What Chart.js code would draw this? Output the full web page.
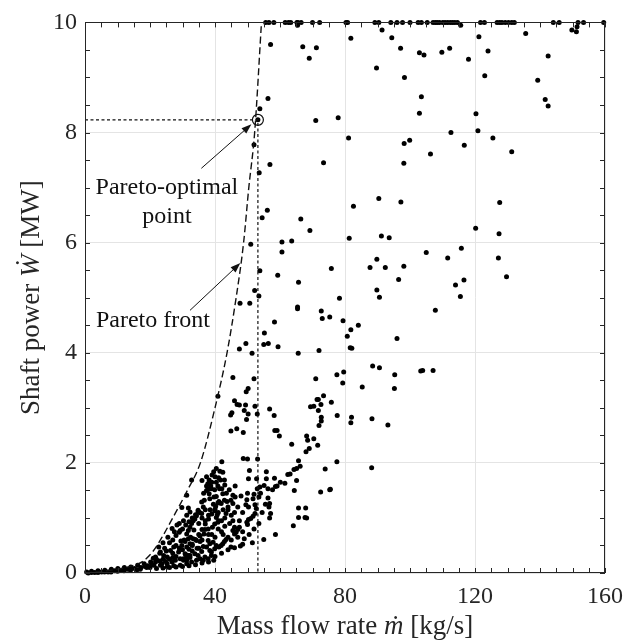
<!DOCTYPE html>
<html>
<head>
<meta charset="utf-8">
<script src="https://cdn.jsdelivr.net/npm/chart.js@4.4.0/dist/chart.umd.min.js"></script>
<style>
  html, body { margin: 0; padding: 0; background: #fff; }
  #wrap { width: 632px; height: 643px; }
</style>
</head>
<body>
<div id="wrap"><canvas id="paretoPlot" width="632" height="643"></canvas></div>
<script>
// ---- data ----
// designs that hit the 10 MW cap (mass flow only)
const capPower = 10;
const capFlow = [55.6, 56.6, 58.1, 61.6, 62.6, 63.3, 65.2, 65.5, 66.5, 70.0, 72.2, 80.3, 80.8,
  89.2, 90.4, 94.1, 96.0, 97.7, 100.0, 102.5, 103.5, 105.3, 107.1, 107.8, 108.4, 109.1, 110.1,
  110.8, 111.6, 112.4, 113.1, 113.8, 114.6, 121.7, 122.9, 126.8, 127.6, 128.3, 129.3, 130.3,
  131.3, 132.1, 144.1, 145.9, 151.7, 153.4, 159.6];

// [mass flow kg/s, shaft power MW]
const upperDesigns = [[65.4,9.95],[91.4,9.86],[115.6,9.95],[149.8,9.86],[151.2,9.83],[151.4,9.92],
  [57.1,9.60],[67.0,9.56],[71.2,9.54],[69.0,9.35],[81.8,9.71],[94.4,9.72],[97.1,9.53],[89.7,9.17],
  [98.3,9.00],[56.3,8.62],[53.8,8.43],[71.0,8.22],[77.9,8.27],[81.1,7.90],[99.9,7.86],[98.2,7.80],
  [52.0,7.78],[56.9,7.42],[73.4,7.45],[98.1,7.44],[53.6,7.27],[90.4,6.80],[97.2,6.74],
  [121.2,9.74],[135.6,9.80],[102.9,9.45],[104.3,9.41],[109.8,9.46],[112.2,9.53],[118.0,9.33],
  [124.0,9.48],[142.5,9.39],[123.0,9.03],[139.3,8.95],[103.5,8.65],[141.6,8.60],[142.5,8.48],
  [102.9,8.35],[120.3,8.34],[120.9,8.03],[112.6,8.00],[125.5,7.90],[116.7,7.77],[106.3,7.61],
  [131.3,7.65],[127.6,6.73],[53.2,8.23]];

const midDesigns = [[54.5,6.45],[56.1,6.59],[51.0,5.97],[53.8,5.49],[52.2,5.13],[53.5,5.03],
  [47.7,4.90],[50.7,4.90],[59.3,5.41],[60.6,5.83],[60.6,6.01],[63.6,6.03],[66.4,6.43],[69.2,6.22],
  [65.7,5.28],[65.4,4.83],[82.6,6.66],[81.3,6.08],[91.2,6.12],[93.6,6.09],[87.7,5.55],[89.8,5.70],
  [92.4,5.55],[98.1,5.57],[96.5,5.33],[75.8,5.53],[89.8,5.14],[90.6,5.01],[78.3,4.99],[65.4,4.80],
  [72.7,4.76],[73.0,4.62],[75.3,4.65],[79.4,4.58],[84.1,4.50],[81.8,4.42],[80.7,4.30],[81.6,4.09],
  [82.1,4.08],[96.0,4.26],[58.3,4.56],[55.2,4.36],[49.5,4.17],[55.0,4.15],[56.4,4.17],[59.4,4.11],
  [47.5,4.07],[51.4,3.99],[65.6,3.99],[72.0,4.04],[88.5,3.76],[90.6,3.73],[95.3,3.60],[77.5,3.60],
  [79.6,3.65],[71.0,3.53],[52.0,3.53],[103.3,3.67],[103.9,3.68],[107.1,3.68],[105.0,5.82],
  [120.2,6.26],[127.4,6.16],[111.6,5.72],[115.8,5.90],[127.2,5.72],[129.7,5.38],[114.0,5.23],
  [116.6,5.32],[115.5,5.02],[107.8,4.77],[45.5,3.55]];

const lowerDesigns = [[79.3,3.45],[85.3,3.38],[95.2,3.35],[69.4,3.02],[70.4,3.03],[71.4,3.15],
  [71.8,3.15],[73.4,3.22],[71.8,2.95],[72.6,3.06],[75.8,3.10],[77.6,2.86],[81.8,2.73],[82.0,2.83],
  [72.7,2.83],[72.7,2.76],[72.0,2.68],[88.3,2.80],[93.2,2.69],[68.2,2.49],[68.5,2.41],[68.0,2.20],
  [69.0,2.26],[70.4,2.44],[71.6,2.32],[77.5,2.02],[73.9,1.89],[88.2,1.91],[72.5,1.47],[75.3,1.51],
  [75.5,1.52],[59.1,2.59],[59.8,2.49],[63.6,2.34],[65.7,2.04],[66.2,1.94],[65.1,1.90],[64.3,1.88],
  [63.1,1.80],[62.4,1.79],[65.1,1.68],[60.1,1.65],[59.1,1.58],[61.5,1.63],[64.4,1.50],[65.7,1.18],
  [67.9,1.18],[68.2,1.00],[64.1,0.86],[65.7,1.01],[67.7,1.01],
  [50.2,3.35],[49.6,3.29],[40.9,3.21],[46.0,3.13],[46.8,3.06],[47.5,3.05],[49.4,3.05],[52.3,3.03],
  [49.0,2.95],[50.2,2.89],[49.7,2.79],[53.0,2.89],[45.2,2.91],[44.8,2.87],[56.8,2.98],[58.2,2.86],
  [58.4,2.59],[44.9,2.58],[46.7,2.62],[48.7,2.55],[48.7,2.08],[50.0,2.07],[53.1,2.07],[42.1,2.02],
  [40.4,1.90],[39.6,1.84],[50.6,1.86],[55.8,1.84],[32.8,1.69],[36.0,1.68],[37.4,1.75],[38.2,1.69],
  [39.1,1.78],[41.1,1.73],[42.4,1.83],[41.7,1.69],[42.9,1.69],[38.7,1.58],[37.4,1.58],[37.9,1.52],
  [37.4,1.50],[40.9,1.58],[41.4,1.53],[42.1,1.53],[44.4,1.51],[46.2,1.58],[50.3,1.71],[52.8,1.71],
  [55.8,1.71],[58.3,1.72],[53.0,1.53],[53.8,1.56],[55.1,1.59],[56.3,1.53],[57.7,1.51],[58.6,1.57],
  [36.5,1.45],[37.8,1.62],[39.0,1.65],[40.0,1.75],[41.5,1.85],[43.0,1.60],[43.5,1.45],[50.0,1.45],
  [54.0,1.45],[48.0,1.40]];

const bottomDesigns = [[31.3,1.41],[35.9,1.29],[36.7,1.32],[38.4,1.35],[39.7,1.38],[40.4,1.39],
  [41.2,1.30],[41.9,1.26],[43.7,1.30],[46.2,1.38],[49.8,1.33],[50.3,1.20],[53.5,1.38],[56.3,1.36],
  [29.8,1.19],[31.8,1.18],[52.0,1.43],[51.7,1.35],[56.8,1.26],[56.6,1.20],[57.1,1.08],[56.8,1.00],
  [52.3,1.24],[52.7,1.17],[52.3,1.08],[51.7,1.03],[49.5,1.24],[48.5,1.10],[51.0,0.99],[50.3,0.97],
  [49.8,0.92],[50.0,0.88],[47.5,0.83],[47.0,0.79],[46.5,0.74],[46.0,0.71],[45.5,0.77],[46.0,0.83],
  [58.6,0.70],[55.0,0.61],[51.5,0.55],[47.8,0.49],[43.4,0.61],[42.9,0.57],[42.4,0.53],[41.9,0.50],
  [41.2,0.47],[40.4,0.50],[39.6,0.23],[38.9,0.38],[43.4,1.08],[45.5,1.26],[44.9,1.32],[40.9,1.27],
  [40.2,1.21],[39.9,1.13],[40.7,1.06],[40.4,1.01],[41.2,0.95],[40.9,0.92],[39.9,0.89],[39.2,0.83],
  [37.9,0.80],[36.9,0.79],[36.6,0.71],[35.4,0.67],[36.4,1.20],[35.9,1.08],[34.8,1.11],[34.3,1.04],
  [33.8,0.98],[33.3,0.95],[32.8,0.90],[32.3,0.83],[31.8,0.77],[31.3,0.71],[38.2,1.44],[38.9,1.53],
  [39.9,1.51],[40.4,1.65],[42.9,1.32],[45.5,1.41],[42.4,1.44],[33.3,0.62],[32.3,0.53],[31.3,0.47],
  [30.8,0.35],[31.8,0.32],[33.8,0.35],[34.8,0.32],[35.9,0.39],[36.4,0.48],[35.4,0.57],[34.3,0.59],
  [37.9,0.59],[38.4,0.53],[39.4,0.56],[37.4,0.47],[38.4,0.41],[36.9,0.29],[37.9,0.26],[38.9,0.32],
  [39.9,0.44],[30.3,0.26],[31.3,0.23],[32.3,0.28],[32.8,0.20],[34.3,0.23],[35.4,0.26],[36.4,0.23],
  [28.3,0.87],[29.3,0.77],[30.3,0.95],[31.3,1.05],[32.3,1.11],[26.8,0.81],[22.7,0.47],[23.2,0.38],
  [24.2,0.32],[25.3,0.29],[26.3,0.41],[27.3,0.47],[28.8,0.38],[29.8,0.50],[30.8,0.57],[31.8,0.62],
  [20.2,0.20],[21.7,0.20],[23.7,0.17],[25.3,0.17],[26.8,0.20],[27.8,0.23],[29.3,0.26],[30.3,0.23],
  [31.3,0.26],[32.3,0.32],[18.2,0.17],[16.2,0.14],[14.1,0.11],[12.1,0.10],[10.1,0.08],[8.1,0.07],
  [6.1,0.05],[4.0,0.04],[2.0,0.03],[0.5,0.02],[3.0,0.01],[5.1,0.02],[7.1,0.02],[9.1,0.04],
  [11.1,0.05],[13.1,0.07],[15.2,0.08],[17.2,0.10],[19.2,0.13],[21.2,0.14],[23.2,0.14],[25.3,0.11],
  [27.3,0.13],[29.3,0.14],[31.3,0.17],
  [21.7,0.29],[23.0,0.36],[24.5,0.45],[26.0,0.55],[27.0,0.60],[28.0,0.68],[29.0,0.74],[30.0,0.80],
  [31.0,0.87],[32.0,0.93],[33.0,1.00],[34.0,1.06],[34.8,1.14],[35.3,1.10],
  [22.0,0.08],[24.0,0.09],[26.0,0.10],[28.0,0.11],[30.0,0.12],[32.0,0.13],[34.0,0.15],[36.0,0.18],
  [38.0,0.20],[44.9,0.47],[24.0,0.55],[25.5,0.65],[27.5,0.75],[29.0,0.90],[26.0,0.25],[28.0,0.30],
  [30.0,0.42],[33.0,0.50],[35.0,0.45],[22.0,0.25],[20.5,0.15],[19.0,0.10],[24.8,0.21],[27.0,0.36],
  [29.5,0.58],[33.5,0.78],[35.0,0.90],[37.0,0.95],[36.0,1.00],[38.0,1.05],[39.0,0.70],[41.0,0.80],
  [42.0,0.95],[43.0,1.00],[44.0,1.15],[45.0,1.05],[42.5,0.70],[44.0,0.65],
  [31.0,0.33],[32.0,0.43],[33.0,0.52],[34.0,0.61],[35.0,0.70],[36.0,0.79],[37.0,0.89],[38.0,0.98],
  [39.0,1.07],[40.0,1.16],[44.0,1.20],[39.5,1.25],[37.0,1.15],[38.5,1.15],[42.5,1.15],[41.0,1.10],
  [43.0,0.85],[44.5,0.90],[45.5,0.95],[42.0,0.75],[40.0,0.65],[38.0,0.70],[36.0,0.60],[34.5,0.45],
  [33.0,0.40],[32.5,0.65],[30.5,0.60],[29.0,0.45],[28.0,0.50],[27.0,0.28],[25.0,0.40],[24.0,0.25],
  [23.0,0.22],[21.0,0.27],[20.0,0.10],[18.5,0.12],[17.0,0.07],[16.0,0.06],[14.0,0.05],[12.0,0.04],
  [10.0,0.03],[8.0,0.02],[6.0,0.02],[4.0,0.01],[2.0,0.01],[1.0,0.00],[45.0,0.60],[47.0,0.65],
  [48.5,0.75],[49.0,0.62],[50.5,0.70],[52.0,0.80],[53.5,0.90],[54.5,1.10],[55.5,1.25],[47.0,1.20],
  [46.0,1.10],[47.5,0.95],[40.0,0.30],[42.0,0.36],[44.0,0.42],[46.0,0.46],[48.5,0.52]];

// Pareto front (dashed)
const frontFlow  = [0, 5, 10, 15, 18, 21, 24, 27, 31.5, 35.5, 40, 43.7, 46.5, 48.8, 50.4, 52.2, 54.3];
const frontPower = [0, 0.03, 0.07, 0.14, 0.22, 0.40, 0.68, 1.0, 1.5, 2.0, 3.0, 4.0, 5.0, 6.0, 7.0, 8.0, 10];

// Pareto-optimal design
const optFlow = 53.2;
const optPower = 8.23;

// axis ticks
const flowTicks = [0, 40, 80, 120, 160];
const powerTicks = [0, 2, 4, 6, 8, 10];

// ---- styling / annotation placement ----
const SERIF = '"Liberation Serif", "Times New Roman", serif';
const INK = '#262626';

const notes = [
  { lines: ['Pareto-optimal', 'point'], textAt: [25.2, 7.0], tail: [35.8, 7.35], tip: [51.2, 8.15] },
  { lines: ['Pareto front'], textAt: [20.9, 4.58], tail: [32.3, 4.77], tip: [47.8, 5.63] }
];

function toPoints(pairs) {
  return pairs.map(function(p) { return { x: p[0], y: p[1] }; });
}

let allDesigns = capFlow.map(function(m) { return { x: m, y: capPower }; })
  .concat(toPoints(upperDesigns), toPoints(midDesigns), toPoints(lowerDesigns), toPoints(bottomDesigns));

let frontPoints = frontFlow.map(function(m, i) { return { x: m, y: frontPower[i] }; });

/**
 * draw a line of text made of plain / italic pieces, centered on (x, y)
 */
function drawRich(ctx, parts, x, y, size) {
  let widths = parts.map(function(p) {
    ctx.font = (p.italic ? 'italic ' : '') + size + 'px ' + SERIF;
    return ctx.measureText(p.t).width;
  });
  let total = widths.reduce(function(a, b) { return a + b; }, 0);
  let cx = x - total / 2;
  parts.forEach(function(p, i) {
    ctx.font = (p.italic ? 'italic ' : '') + size + 'px ' + SERIF;
    ctx.fillText(p.t, cx, y);
    cx += widths[i];
  });
}

function drawArrow(ctx, x0, y0, x1, y1) {
  let ang = Math.atan2(y1 - y0, x1 - x0);
  let len = 10, half = 3.6;
  ctx.beginPath();
  ctx.moveTo(x0, y0);
  ctx.lineTo(x1 - Math.cos(ang) * len * 0.8, y1 - Math.sin(ang) * len * 0.8);
  ctx.stroke();
  ctx.beginPath();
  ctx.moveTo(x1, y1);
  ctx.lineTo(x1 - Math.cos(ang) * len - Math.sin(ang) * half, y1 - Math.sin(ang) * len + Math.cos(ang) * half);
  ctx.lineTo(x1 - Math.cos(ang) * len + Math.sin(ang) * half, y1 - Math.sin(ang) * len - Math.cos(ang) * half);
  ctx.closePath();
  ctx.fill();
}

const frameAndNotes = {
  id: 'frameAndNotes',
  afterDraw: function(chart) {
    let ctx = chart.ctx;
    let xs = chart.scales.x, ys = chart.scales.y;
    let a = chart.chartArea;
    ctx.save();

    // box
    ctx.strokeStyle = INK;
    ctx.lineWidth = 1;
    ctx.strokeRect(Math.round(a.left) + 0.5, Math.round(a.top) + 0.5,
      Math.round(a.right - a.left) - 1, Math.round(a.bottom - a.top) - 1);

    // inward ticks on all four sides
    ctx.beginPath();
    for (let v = 0; v <= 160; v += 5) {
      let px = Math.round(xs.getPixelForValue(v)) + 0.5;
      ctx.moveTo(px, a.bottom); ctx.lineTo(px, a.bottom - 5);
      ctx.moveTo(px, a.top); ctx.lineTo(px, a.top + 5);
    }
    for (let v = 0; v <= 10; v += 0.5) {
      let py = Math.round(ys.getPixelForValue(v)) + 0.5;
      ctx.moveTo(a.left, py); ctx.lineTo(a.left + 5, py);
      ctx.moveTo(a.right, py); ctx.lineTo(a.right - 5, py);
    }
    ctx.stroke();

    // axis titles
    ctx.fillStyle = INK;
    ctx.textBaseline = 'alphabetic';
    ctx.textAlign = 'left';
    drawRich(ctx, [{ t: 'Mass flow rate ' }, { t: 'ṁ', italic: true }, { t: ' [kg/s]' }],
      (a.left + a.right) / 2, 634, 27);
    ctx.save();
    ctx.translate(39, (a.top + a.bottom) / 2);
    ctx.rotate(-Math.PI / 2);
    drawRich(ctx, [{ t: 'Shaft power ' }, { t: 'Ẇ', italic: true }, { t: ' [MW]' }], 0, 0, 27);
    ctx.restore();

    // annotations with arrows
    ctx.fillStyle = '#111';
    ctx.strokeStyle = '#111';
    ctx.lineWidth = 1;
    ctx.textAlign = 'center';
    ctx.textBaseline = 'middle';
    ctx.font = '24px ' + SERIF;
    notes.forEach(function(n) {
      let tx = xs.getPixelForValue(n.textAt[0]);
      let ty = ys.getPixelForValue(n.textAt[1]);
      n.lines.forEach(function(line, i) { ctx.fillText(line, tx, ty + i * 29); });
      drawArrow(ctx, xs.getPixelForValue(n.tail[0]), ys.getPixelForValue(n.tail[1]),
        xs.getPixelForValue(n.tip[0]), ys.getPixelForValue(n.tip[1]));
    });

    ctx.restore();
  }
};

let tickFont = { family: SERIF, size: 24 };

new Chart(document.getElementById('paretoPlot'), {
  type: 'scatter',
  data: {
    datasets: [
      {
        label: 'optimum', data: [{ x: optFlow, y: optPower }], order: 0,
        pointRadius: 5.5, pointBorderWidth: 1.2, pointBorderColor: '#111',
        pointBackgroundColor: 'rgba(0,0,0,0)', showLine: false
      },
      {
        label: 'guides', order: 1,
        data: [{ x: 0, y: optPower }, { x: optFlow, y: optPower }, { x: optFlow, y: 0 }],
        showLine: true, borderColor: '#111', borderWidth: 1.2, borderDash: [3, 2.5],
        pointRadius: 0, tension: 0
      },
      {
        label: 'Pareto front', data: frontPoints, order: 2,
        showLine: true, borderColor: '#111', borderWidth: 1.4, borderDash: [7, 3.5],
        pointRadius: 0, cubicInterpolationMode: 'monotone'
      },
      {
        label: 'designs', data: allDesigns, order: 3, clip: false,
        pointRadius: 2.5, pointBorderWidth: 0,
        pointBackgroundColor: '#000', borderColor: '#000', showLine: false
      }
    ]
  },
  options: {
    responsive: false,
    animation: false,
    devicePixelRatio: 1,
    layout: { padding: { top: 18, right: 19, left: 0, bottom: 0 } },
    plugins: { legend: { display: false }, tooltip: { enabled: false } },
    scales: {
      x: {
        type: 'linear', min: 0, max: 160,
        afterBuildTicks: function(s) { s.ticks = flowTicks.map(function(v) { return { value: v }; }); },
        ticks: { font: tickFont, color: INK, padding: 9, maxRotation: 0 },
        grid: { color: '#e4e4e4', lineWidth: 1, drawTicks: false },
        border: { display: false },
        afterFit: function(s) { s.height = 70; }
      },
      y: {
        type: 'linear', min: 0, max: 10,
        afterBuildTicks: function(s) { s.ticks = powerTicks.map(function(v) { return { value: v }; }); },
        ticks: { font: tickFont, color: INK, padding: 8 },
        grid: { color: '#e4e4e4', lineWidth: 1, drawTicks: false },
        border: { display: false },
        afterFit: function(s) { s.width = 85; }
      }
    }
  },
  plugins: [frameAndNotes]
});
</script>
</body>
</html>
